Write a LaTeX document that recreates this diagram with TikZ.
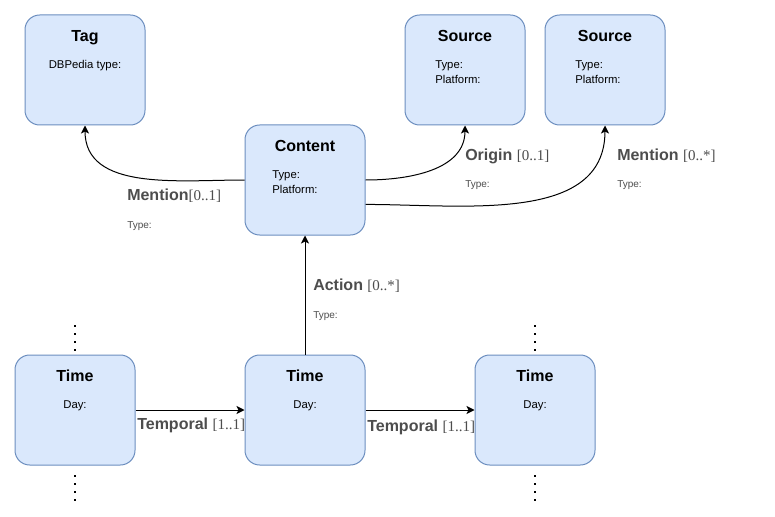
\documentclass[tikz,border=0pt]{standalone}
\usepackage{fontspec}
\setmainfont{Liberation Sans}
\newfontfamily\bracketfont{Liberation Serif}
\usepackage{xcolor}
\usetikzlibrary{arrows.meta}

\definecolor{boxfill}{HTML}{DAE8FC}
\definecolor{boxline}{HTML}{6C8EBF}
\definecolor{relgray}{HTML}{4D4D4D}

\newcommand{\card}[1]{{\bracketfont\fontsize{11.25}{14}\selectfont#1}}

\tikzset{
  entity/.style={draw=boxline, fill=boxfill, rounded corners=11pt, minimum width=90pt, minimum height=82.5pt, line width=0.75pt},
  title/.style={font=\fontsize{12}{14}\selectfont\bfseries, text height=8.6pt, text depth=2.5pt},
  field/.style={font=\fontsize{8.5}{11.25}\selectfont, align=left, inner sep=0pt},
  rel/.style={font=\fontsize{12}{14}\selectfont, text=relgray, anchor=west, inner sep=0pt},
  reltype/.style={font=\fontsize{7.5}{9}\selectfont, text=relgray, anchor=west, inner sep=0pt},
  link/.style={-{Stealth[length=6pt,width=6pt,inset=1.5pt]}, line width=0.75pt},
  dots/.style={line width=1.5pt, dash pattern=on 1.5pt off 4.5pt}
}

\begin{document}
\begin{tikzpicture}[x=0.75pt, y=0.75pt]
    \useasboundingbox (0,0) rectangle (775,-517);
    % the boxes
    \node[entity] (tag) at (85,-70) {};
    \node[entity] (content) at (305,-180) {};
    \node[entity] (origin) at (465,-70) {};
    \node[entity] (source) at (605,-70) {};
    \node[entity] (timeA) at (75,-410) {};
    \node[entity] (timeB) at (305,-410) {};
    \node[entity] (timeC) at (535,-410) {};
    % box texts
    \node[title] (tagname) at (85,-37) {Tag};
    \node[field] (tagfield) at (85,-66) {DBPedia type:};
    \node[title] (contentname) at (305,-147) {Content};
    \node[field, anchor=west] (contentfield) at (272,-182) {Type:\\Platform:};
    \node[title] (originname) at (465,-37) {Source};
    \node[field, anchor=west] (originfield) at (435,-72) {Type:\\Platform:};
    \node[title] (sourcename) at (605,-37) {Source};
    \node[field, anchor=west] (sourcefield) at (575,-72) {Type:\\Platform:};
    \node[title] (timeAname) at (75,-377) {Time};
    \node[field] (timeAfield) at (75,-406) {Day:};
    \node[title] (timeBname) at (305,-377) {Time};
    \node[field] (timeBfield) at (305,-406) {Day:};
    \node[title] (timeCname) at (535,-377) {Time};
    \node[field] (timeCfield) at (535,-406) {Day:};
    % links
    \draw[link] (content.west) to[out=180, in=-90] (tag.south);
    \draw[link] (content.east) to[out=0, in=-90] (origin.south);
    \draw[link] (content.-22.6) to[out=0, in=-90] (source.south);
    \draw[link] (timeB.north) -- (content.south);
    \draw[link] (timeA.east) -- (timeB.west);
    \draw[link] (timeB.east) -- (timeC.west);
    % link labels
    \node[rel] (mentionA) at (127,-196) {\textbf{Mention}\card{[0..1]}};
    \node[reltype] (mentionAtype) at (127,-226) {Type:};
    \node[rel] (originlabel) at (465,-156) {\textbf{Origin} \card{[0..1]}};
    \node[reltype] (origintype) at (465,-185) {Type:};
    \node[rel] (mentionB) at (617,-156) {\textbf{Mention} \card{[0..*]}};
    \node[reltype] (mentionBtype) at (617,-185) {Type:};
    \node[rel] (action) at (313,-286) {\textbf{Action} \card{[0..*]}};
    \node[reltype] (actiontype) at (313,-316) {Type:};
    \node[rel] (temporalA) at (137,-425) {\textbf{Temporal} \card{[1..1]}};
    \node[rel] (temporalB) at (367,-427) {\textbf{Temporal} \card{[1..1]}};
    % more time boxes go on
    \draw[dots] (75,-325) -- (75,-351);
    \draw[dots] (75,-475) -- (75,-501);
    \draw[dots] (535,-325) -- (535,-351);
    \draw[dots] (535,-475) -- (535,-501);
\end{tikzpicture}
\end{document}
